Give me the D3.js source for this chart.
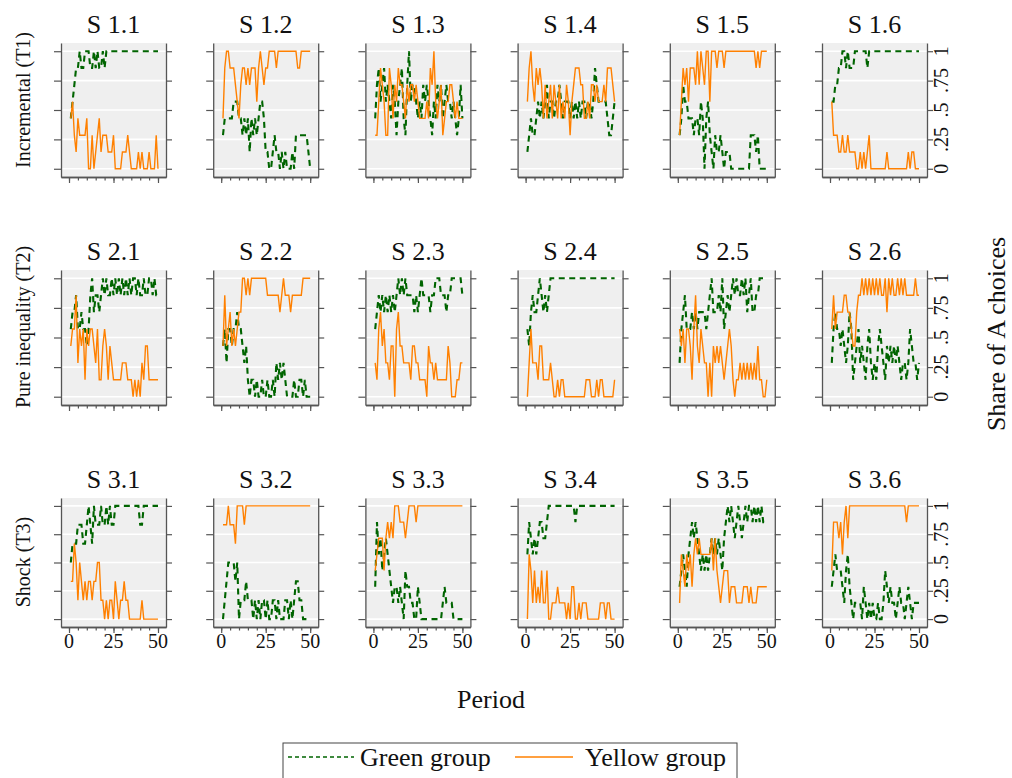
<!DOCTYPE html>
<html><head><meta charset="utf-8">
<script src="https://cdn.jsdelivr.net/npm/d3@7"></script>
<style>body{margin:0;background:#fff} text{font-family:'Liberation Serif','Times New Roman',Times,serif}</style>
</head><body>
<svg id="c" width="1012" height="778"></svg>
<script>
// ---------- DATA (counts of A choices per group; share = count / groupSize) ----------
const sessions = ["S 1.1","S 1.2","S 1.3","S 1.4","S 1.5","S 1.6",
                  "S 2.1","S 2.2","S 2.3","S 2.4","S 2.5","S 2.6",
                  "S 3.1","S 3.2","S 3.3","S 3.4","S 3.5","S 3.6"];
const groupSize = [7,7,7,7,7,7, 7,7,7,7,7,7, 6,6,7,7,7,7];
const treatments = ["Incremental (T1)","Pure inequality (T2)","Shock (T3)"];
const yTicks = [0, 0.25, 0.5, 0.75, 1];
const yTickLabels = ["0", ".25", ".5", ".75", "1"];
const xMajorTicks = [0, 25, 50];
const xMinorTicks = [0,5,10,15,20,25,30,35,40,45,50];
const seriesNames = ["Green group","Yellow group"];

const green11 = [3,4,5,6,6,7,6,6,7,7, 7,6,6,7,6,7,6,6,7,6, 7,7,7,7,7,7,7,7,7,7, 7,7,7,7,7,7,7,7,7,7, 7,7,7,7,7,7,7,7,7,7];
const yellow11 = [3,4,2,1,3,2,2,2,2,3, 0,0,2,0,1,2,3,1,2,2, 2,1,1,1,2,0,0,0,0,1, 1,1,2,1,0,0,0,0,1,0, 1,0,0,0,1,0,0,0,2,0];
const green12 = [2,3,3,3,3,3,4,4,4,3, 3,2,3,2,3,1,3,2,3,2, 3,4,4,3,1,1,0,0,1,2, 1,1,0,1,0,1,0,0,0,1, 0,2,2,2,2,2,2,2,1,0];
const yellow12 = [3,6,7,7,6,6,6,5,4,3, 5,6,6,5,6,5,6,6,6,4, 6,7,6,5,6,6,7,7,7,7, 6,7,7,7,7,7,7,7,7,7, 7,7,6,6,7,7,7,7,7,7];
const green13 = [3,5,6,4,5,6,4,5,4,3, 5,4,2,4,5,6,3,2,5,7, 4,5,5,4,3,4,3,5,4,5, 4,3,2,4,3,5,4,5,3,4, 5,4,4,3,4,3,2,3,5,3];
const yellow13 = [2,2,4,6,5,4,2,2,6,5, 3,5,4,6,5,5,4,3,5,4, 5,5,4,5,4,3,3,3,3,4, 3,6,5,7,4,3,4,5,2,3, 4,4,5,5,4,3,4,3,3,3];
const green14 = [1,2,3,2,2,3,4,3,4,3, 4,5,3,4,4,3,4,4,5,4, 3,4,4,4,3,4,3,4,3,4, 3,4,4,3,4,4,3,4,6,5, 4,4,4,4,4,3,2,2,3,4];
const yellow14 = [4,6,7,5,4,6,5,6,5,3, 5,3,4,5,3,5,4,3,5,3, 4,3,5,4,2,4,5,6,6,6, 5,5,3,3,4,3,5,5,4,5, 4,4,4,5,4,6,6,6,5,4];
const green15 = [2,3,5,4,4,3,3,3,2,3, 3,2,4,3,0,3,4,2,1,0, 2,1,1,2,1,0,1,1,1,0, 0,0,0,0,0,0,0,0,0,0, 2,2,2,1,2,0,0,0,0,0];
const yellow15 = [2,4,6,5,6,4,6,6,6,5, 7,5,7,6,5,7,7,4,7,7, 7,6,7,7,7,6,7,7,7,7, 7,7,7,7,7,7,7,7,7,7, 7,7,7,6,7,6,7,7,7,7];
const green16 = [4,4,5,5,6,6,7,7,6,7, 6,6,6,7,7,7,7,7,7,7, 6,7,7,7,7,7,7,7,7,7, 7,7,7,7,7,7,7,7,7,7, 7,7,7,7,7,7,7,7,7,7];
const yellow16 = [4,2,2,2,1,1,2,1,1,2, 1,1,1,1,0,0,1,0,1,0, 1,2,0,0,0,0,0,0,0,0, 0,1,0,0,0,0,0,0,0,0, 0,0,0,1,0,1,1,0,0,0];

const green21 = [4,5,5,6,4,4,5,4,4,3, 4,6,7,5,6,6,5,6,7,6, 7,6,6,7,6,7,6,7,6,7, 6,7,6,7,6,7,7,6,7,6, 6,7,6,6,7,7,6,7,6,6];
const yellow21 = [3,4,4,6,2,4,3,4,1,4, 3,4,4,3,2,4,1,1,3,4, 3,1,3,2,1,1,1,1,1,2, 2,2,1,1,1,0,1,0,1,0, 2,1,3,3,1,1,1,1,1,1];
const green22 = [3,4,2,4,4,3,4,4,5,4, 4,3,2,3,1,0,1,1,0,1, 0,0,1,0,0,1,0,0,1,0, 2,1,2,1,2,1,0,0,0,0, 1,0,0,1,1,0,1,0,0,0];
const yellow22 = [3,6,3,4,5,3,4,3,4,5, 5,7,7,6,7,6,7,7,7,7, 7,7,7,7,7,6,6,6,6,6, 6,6,5,6,7,6,6,6,5,6, 6,6,6,6,6,7,7,7,7,7];
const green23 = [4,5,6,5,6,5,6,5,6,5, 6,5,6,7,6,7,6,7,6,6, 6,6,5,6,5,6,7,6,6,6, 6,5,6,6,7,7,7,6,6,6, 5,6,6,7,7,7,7,7,7,6];
const yellow23 = [2,1,4,5,3,4,2,2,1,3, 3,0,4,5,3,3,2,2,2,2, 1,3,3,2,2,1,1,1,1,0, 3,2,2,1,2,1,1,1,1,1, 1,3,2,0,0,0,1,1,2,2];
const green24 = [4,3,5,6,5,5,6,7,6,5, 6,5,6,7,7,7,7,7,7,7, 7,7,7,7,7,7,7,7,7,7, 7,7,7,7,7,7,7,7,7,7, 7,7,7,7,7,7,7,7,7,7];
const yellow24 = [0,2,4,2,2,2,1,3,3,1, 1,1,1,2,1,0,0,1,0,1, 1,0,0,0,0,0,0,0,0,0, 0,0,0,1,1,1,0,0,0,1, 0,1,1,0,0,0,0,0,0,1];
const green25 = [2,4,5,6,4,4,4,5,4,5, 4,5,5,5,5,4,5,6,7,5, 5,5,6,5,7,4,5,6,5,6, 7,6,7,6,6,7,6,7,5,6, 7,5,5,6,6,7,7,7,7,7];
const yellow25 = [4,3,4,2,4,4,3,1,4,6, 3,2,4,3,2,2,0,2,0,3, 2,3,2,3,2,1,2,3,4,3, 1,0,1,1,2,1,2,1,2,1, 2,1,2,1,3,1,1,0,0,1];
const green26 = [2,4,5,4,4,3,4,3,2,3, 5,4,1,2,3,4,2,3,2,1, 3,4,2,1,2,1,3,4,3,2, 1,3,2,3,2,3,2,3,2,1, 2,2,1,2,4,3,2,2,1,2];
const yellow26 = [4,6,4,5,5,5,5,6,6,5, 5,4,3,3,5,6,6,7,6,7, 6,7,6,7,6,7,6,7,6,6, 7,5,7,6,7,6,6,7,6,7, 6,7,6,6,6,6,6,7,6,6];

const green31 = [3,4,4,4,5,5,5,4,4,5, 6,5,4,6,5,5,5,6,5,5, 6,5,6,5,5,6,6,6,6,6, 6,6,6,6,6,6,6,6,6,5, 5,6,6,6,6,6,6,6,6,6];
const yellow31 = [2,2,4,3,1,3,2,1,2,1, 2,2,1,2,2,3,3,1,1,0, 1,0,1,1,0,2,1,0,1,1, 2,1,1,0,0,0,0,0,0,0, 1,0,0,0,0,0,0,0,0,0];
const green32 = [0,1,2,3,3,3,3,2,3,0, 1,1,1,2,1,1,1,0,1,0, 1,0,1,1,0,1,0,0,1,1, 0,1,0,0,0,1,1,0,1,0, 1,2,2,1,1,0,0,0,0,0];
const yellow32 = [5,5,5,6,5,5,5,4,6,6, 6,6,5,6,6,6,6,6,6,6, 6,6,6,6,6,6,6,6,6,6, 6,6,6,6,6,6,6,6,6,6, 6,6,6,6,6,6,6,6,6,6];
const green33 = [2,6,4,5,3,4,5,4,3,2, 1,2,2,1,2,1,0,3,2,2, 1,1,0,0,2,1,0,0,0,0, 0,0,0,0,0,0,0,0,1,2, 1,1,1,1,0,0,0,0,0,0];
const yellow33 = [3,4,5,5,5,3,5,6,5,6, 5,7,7,7,6,6,6,5,6,7, 7,7,7,6,7,7,7,7,7,7, 7,7,7,7,7,7,7,7,7,7, 7,7,7,7,7,7,7,7,7,7];
const green34 = [4,6,5,4,5,4,5,6,6,5, 5,6,7,7,7,7,7,7,7,7, 7,7,7,7,7,7,7,6,7,7, 7,7,7,7,7,7,7,7,7,7, 7,7,7,7,7,7,7,7,7,7];
const yellow34 = [0,4,3,1,3,1,2,1,3,1, 1,3,0,0,1,1,1,2,1,1, 1,1,0,1,0,2,2,0,0,1, 0,1,1,1,0,0,0,0,0,0, 0,1,1,1,0,1,1,0,0,0];
const green35 = [2,3,4,3,2,4,5,6,5,6, 5,4,3,4,3,4,3,4,5,4, 5,4,5,4,3,5,6,7,6,7, 6,5,6,7,6,5,6,7,6,7, 7,6,7,6,7,6,7,6,6,6];
const yellow35 = [1,4,3,2,4,3,4,2,4,5, 4,5,4,4,4,4,4,4,5,3, 5,3,2,1,2,3,3,3,1,2, 2,2,1,1,1,1,2,2,2,1, 2,1,1,1,2,2,2,2,2,2];
const green36 = [2,3,4,3,3,3,2,1,3,4, 2,1,0,1,1,1,1,0,2,1, 0,1,0,1,0,0,1,0,0,1, 3,2,1,2,1,1,0,1,2,1, 1,0,1,2,1,0,1,1,1,1];
const yellow36 = [3,6,6,6,5,6,4,6,7,5, 7,7,7,7,7,7,7,7,7,7, 7,7,7,7,7,7,7,7,7,7, 7,7,7,7,7,7,7,7,7,7, 7,7,6,7,7,7,7,7,7,7];

const greenSeries = [green11,green12,green13,green14,green15,green16,
                     green21,green22,green23,green24,green25,green26,
                     green31,green32,green33,green34,green35,green36];
const yellowSeries = [yellow11,yellow12,yellow13,yellow14,yellow15,yellow16,
                      yellow21,yellow22,yellow23,yellow24,yellow25,yellow26,
                      yellow31,yellow32,yellow33,yellow34,yellow35,yellow36];

// ---------- DRAWING ----------
const FONT = "'Liberation Serif','Times New Roman',Times,serif";
const GREEN = "#006400", ORANGE = "#ff8000", AXIS = "#555555";
const svg = d3.select("#c");
svg.append("rect").attr("width",1012).attr("height",778).attr("fill","#fff");

const colX = d3.scaleLinear().domain([0,5]).range([61, 822]);
const rowTop = [43, 270, 498], rowH = [134, 135, 129];
const rowLabelY = [100, 327, 562];
const PW = 105;
const x = d3.scaleLinear().domain([-4.5, 54.5]).range([0, PW]);

const txt = (sel, size) => sel.attr("font-family", FONT).attr("font-size", size).attr("fill", "#111");

sessions.forEach((name, k) => {
  const r = Math.floor(k / 6), c = k % 6, h = rowH[r];
  const y = d3.scaleLinear().domain([-0.07, 1.07]).range([h, 0]);
  const g = svg.append("g").attr("transform", `translate(${colX(c)},${rowTop[r]})`);

  g.append("rect").attr("width", PW).attr("height", h).attr("fill", "#efefef");
  g.selectAll(".grid").data(yTicks).join("line")
    .attr("x1", 0).attr("x2", PW).attr("y1", d => y(d)).attr("y2", d => y(d))
    .attr("stroke", "#fff").attr("stroke-width", 1.6);

  const styleAxis = sel => {
    sel.selectAll("path.domain").attr("stroke", AXIS).attr("stroke-width", 1.3);
    sel.selectAll(".tick line").attr("stroke", AXIS).attr("stroke-width", 1.2);
    sel.selectAll("text").remove();
  };
  g.append("g").call(d3.axisLeft(y).tickValues(yTicks).tickSize(7).tickSizeOuter(0)).call(styleAxis);
  g.append("g").attr("transform", `translate(${PW},0)`)
    .call(d3.axisRight(y).tickValues(yTicks).tickSize(6).tickSizeOuter(0)).call(styleAxis);
  g.append("g").attr("transform", `translate(0,${h})`)
    .call(d3.axisBottom(x).tickValues(xMinorTicks).tickSize(3.5).tickSizeOuter(0)).call(styleAxis);
  g.append("g").attr("transform", `translate(0,${h})`)
    .call(d3.axisBottom(x).tickValues(xMajorTicks).tickSize(6).tickSizeOuter(0)).call(styleAxis);

  if (r === 2) {
    g.selectAll(".xl").data(xMajorTicks).join("text")
      .attr("x", d => x(d)).attr("y", h + 21).attr("text-anchor", "middle")
      .call(txt, 20).text(d => d);
  }
  if (c === 5) {
    g.selectAll(".yl").data(yTicks).join("text")
      .attr("transform", (d) => `translate(${PW + 21},${y(d)}) rotate(-90)`)
      .attr("text-anchor", "middle").call(txt, 20)
      .text((d, i) => yTickLabels[i]);
  }

  g.append("text").attr("x", PW / 2).attr("y", -10).attr("text-anchor", "middle")
    .call(txt, 26).text(name);

  const n = groupSize[k];
  const line = d3.line().x((d, i) => x(i + 1)).y(d => y(d / n));
  g.append("path").datum(greenSeries[k]).attr("d", line).attr("fill", "none")
    .attr("stroke", GREEN).attr("stroke-width", 2.1).attr("stroke-dasharray", "6,4.5");
  g.append("path").datum(yellowSeries[k]).attr("d", line).attr("fill", "none")
    .attr("stroke", ORANGE).attr("stroke-width", 1.4);
});

// row labels
treatments.forEach((t, r) => {
  svg.append("text").attr("transform", `translate(30,${rowLabelY[r]}) rotate(-90)`)
    .attr("text-anchor", "middle").call(txt, 20).text(t);
});

// axis titles
svg.append("text").attr("transform", "translate(1005,334) rotate(-90)")
  .attr("text-anchor", "middle").call(txt, 26).text("Share of A choices");
svg.append("text").attr("x", 491).attr("y", 708).attr("text-anchor", "middle")
  .call(txt, 26).text("Period");

// legend
const lg = svg.append("g");
lg.append("rect").attr("x", 283).attr("y", 743).attr("width", 454).attr("height", 60)
  .attr("fill", "#fff").attr("stroke", "#444").attr("stroke-width", 1);
lg.append("line").attr("x1", 288).attr("x2", 354).attr("y1", 757).attr("y2", 757)
  .attr("stroke", GREEN).attr("stroke-width", 1.3).attr("stroke-dasharray", "4,3");
lg.append("text").attr("x", 360).attr("y", 766).call(txt, 26).text(seriesNames[0]);
lg.append("line").attr("x1", 515).attr("x2", 573).attr("y1", 757).attr("y2", 757)
  .attr("stroke", ORANGE).attr("stroke-width", 1.4);
lg.append("text").attr("x", 585).attr("y", 766).call(txt, 26).text(seriesNames[1]);
</script>
</body></html>
